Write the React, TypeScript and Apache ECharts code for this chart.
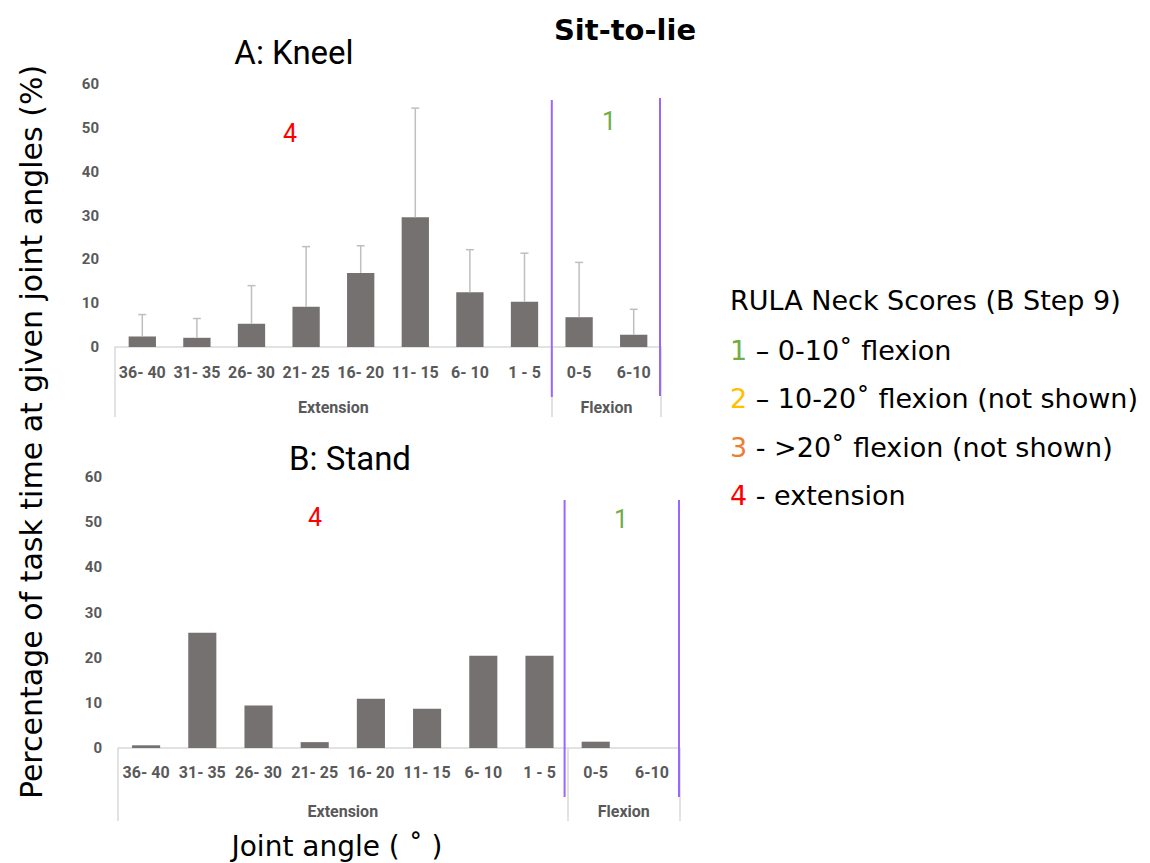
import React, { useEffect, useRef } from 'react';
import * as echarts from 'echarts';

const categories = ['36- 40', '31- 35', '26- 30', '21- 25', '16- 20', '11- 15', '6- 10', '1 - 5', '0-5', '6-10'];
const groupLabels = ['Extension', 'Flexion'];
const groupBounds = [0, 8, 10];
const groupCenters = [4, 9];
const kneelValues = [2.4, 2.1, 5.3, 9.2, 16.9, 29.6, 12.5, 10.3, 6.8, 2.8];
const kneelErrors = [5.0, 4.4, 8.7, 13.7, 6.2, 24.9, 9.7, 11.1, 12.5, 5.8];
const standValues = [0.6, 25.5, 9.4, 1.3, 10.9, 8.7, 20.4, 20.4, 1.4, 0];
const yMin = 0;
const yMax = 60;
const yInterval = 10;

const legendTitle = 'RULA Neck Scores (B Step 9)';
const legendItems = [
  { key: 'g', score: '1', text: ' – 0-10˚ flexion', color: '#70ad47' },
  { key: 'y', score: '2', text: ' – 10-20˚ flexion (not shown)', color: '#ffc000' },
  { key: 'o', score: '3', text: ' - >20˚ flexion (not shown)', color: '#ed7d31' },
  { key: 'r', score: '4', text: ' - extension', color: '#ff0000' },
];

const labelColor = '#595959';
const axisGray = '#d9d9d9';
const barColor = '#767171';
const errColor = '#bfbfbf';
const purple = '#9966ff';

export default function App() {
  const ref = useRef<HTMLDivElement>(null);
  useEffect(() => {
    const chart = echarts.init(ref.current!, null, { renderer: 'svg' });

    const catAxis = (gridIndex: number, margin: number) => ({
      type: 'category',
      gridIndex,
      data: categories,
      boundaryGap: true,
      axisLine: { show: true, lineStyle: { color: axisGray, width: 1.5 } },
      axisTick: { show: false },
      axisLabel: {
        interval: 0,
        margin,
        color: labelColor,
        fontFamily: 'Roboto',
        fontWeight: 'bold',
        fontSize: 16,
      },
      splitLine: { show: false },
    });

    const groupAxis = (gridIndex: number, offset: number) => ({
      type: 'value',
      gridIndex,
      min: 0,
      max: 10,
      position: 'bottom',
      offset,
      axisLine: { show: false },
      axisTick: {
        show: true,
        inside: true,
        length: offset,
        customValues: groupBounds,
        lineStyle: { color: axisGray, width: 1.5 },
      },
      axisLabel: {
        show: true,
        inside: true,
        margin: 2,
        customValues: groupCenters,
        formatter: (v: number) => {
          const i = groupCenters.indexOf(v);
          return i >= 0 ? groupLabels[i] : '';
        },
        color: labelColor,
        fontFamily: 'Roboto',
        fontWeight: 'bold',
        fontSize: 16,
      },
      splitLine: { show: false },
    });

    const valAxis = (gridIndex: number, margin: number) => ({
      type: 'value',
      gridIndex,
      min: yMin,
      max: yMax,
      interval: yInterval,
      axisLine: { show: false },
      axisTick: { show: false },
      splitLine: { show: false },
      axisLabel: {
        margin,
        color: labelColor,
        fontFamily: 'Roboto',
        fontWeight: 'bold',
        fontSize: 15,
      },
    });

    const errorRender = (params: any, api: any) => {
      const x = api.value(0);
      const v = api.value(1);
      const e = api.value(2);
      const p0 = api.coord([x, v]);
      const p1 = api.coord([x, v + e]);
      const cap = 4;
      const style = { stroke: errColor, lineWidth: 1.5 };
      return {
        type: 'group',
        children: [
          { type: 'line', shape: { x1: p0[0], y1: p0[1], x2: p1[0], y2: p1[1] }, style },
          { type: 'line', shape: { x1: p1[0] - cap, y1: p1[1], x2: p1[0] + cap, y2: p1[1] }, style },
        ],
      };
    };

    chart.setOption({
      animation: false,
      grid: [
        { left: 115, top: 84, width: 546, height: 263 },
        { left: 118, top: 477, width: 562, height: 271 },
      ],
      xAxis: [catAxis(0, 17), groupAxis(0, 70), catAxis(1, 16), groupAxis(1, 73)],
      yAxis: [valAxis(0, 16), valAxis(1, 16)],
      series: [
        {
          type: 'bar',
          xAxisIndex: 0,
          yAxisIndex: 0,
          data: kneelValues,
          barWidth: '50%',
          itemStyle: { color: barColor },
        },
        {
          type: 'custom',
          xAxisIndex: 0,
          yAxisIndex: 0,
          data: kneelValues.map((v, i) => [i, v, kneelErrors[i]]),
          encode: { x: 0, y: 1 },
          renderItem: errorRender,
          z: 3,
        },
        {
          type: 'bar',
          xAxisIndex: 2,
          yAxisIndex: 1,
          data: standValues,
          barWidth: '50%',
          itemStyle: { color: barColor },
        },
      ],
    });

    const px = (axisIndex: number, v: number) =>
      chart.convertToPixel({ xAxisIndex: axisIndex } as any, v) as unknown as number;

    const text = (t: string, x: number, y: number, extra: any = {}, elExtra: any = {}) => ({
      type: 'text',
      x,
      y,
      ...elExtra,
      style: {
        text: t,
        align: 'center',
        verticalAlign: 'middle',
        textAlign: 'center',
        textVerticalAlign: 'middle',
        fill: '#000',
        fontFamily: 'DejaVu Sans',
        fontSize: 30,
        ...extra,
      },
    });

    const vline = (x: number, y1: number, y2: number) => ({
      type: 'line',
      shape: { x1: x, y1, x2: x, y2 },
      style: { stroke: purple, lineWidth: 2 },
      z: 10,
    });

    const legend = legendItems.map((it, i) => ({
      type: 'text',
      x: 730,
      y: 350 + i * 48.5,
      style: {
        text: `{${it.key}|${it.score}}${it.text}`,
        rich: { [it.key]: { fill: it.color, fontFamily: 'DejaVu Sans', fontSize: 27 } },
        align: 'left',
        textAlign: 'left',
        verticalAlign: 'middle',
        textVerticalAlign: 'middle',
        fill: '#000',
        fontFamily: 'DejaVu Sans',
        fontSize: 27,
      },
    }));

    chart.setOption({
      graphic: {
        elements: [
          text('Sit-to-lie', 625, 30, { fontWeight: 'bold', fontSize: 29 }),
          text('A: Kneel', 294, 52, { fontFamily: 'Roboto', fontSize: 33 }),
          text('B: Stand', 350, 458, { fontFamily: 'Roboto', fontSize: 33 }),
          text('Percentage of task time at given joint angles (%)', 31, 432, {}, { rotation: Math.PI / 2 }),
          text('Joint angle ( ˚ )', 337, 846, { fontSize: 28 }),
          text('4', 290, 133, { fill: '#ff0000', fontFamily: 'Roboto', fontSize: 25 }),
          text('1', 609, 121, { fill: '#70ad47', fontFamily: 'Roboto', fontSize: 25 }),
          text('4', 315, 517, { fill: '#ff0000', fontFamily: 'Roboto', fontSize: 25 }),
          text('1', 621, 519, { fill: '#70ad47', fontFamily: 'Roboto', fontSize: 25 }),
          {
            type: 'text',
            x: 730,
            y: 300,
            style: {
              text: legendTitle,
              align: 'left',
              textAlign: 'left',
              verticalAlign: 'middle',
              textVerticalAlign: 'middle',
              fill: '#000',
              fontFamily: 'DejaVu Sans',
              fontSize: 27,
            },
          },
          ...legend,
          vline(px(1, 8), 100, 397),
          vline(px(1, 10) - 1, 98, 396),
          vline(px(3, 8) - 3, 500, 797),
          vline(px(3, 10) - 1, 500, 797),
        ],
      },
    });

    return () => chart.dispose();
  }, []);

  return (
    <div
      ref={ref}
      style={{ position: 'fixed', left: 0, top: 0, width: 1150, height: 863, background: '#fff' }}
    />
  );
}
